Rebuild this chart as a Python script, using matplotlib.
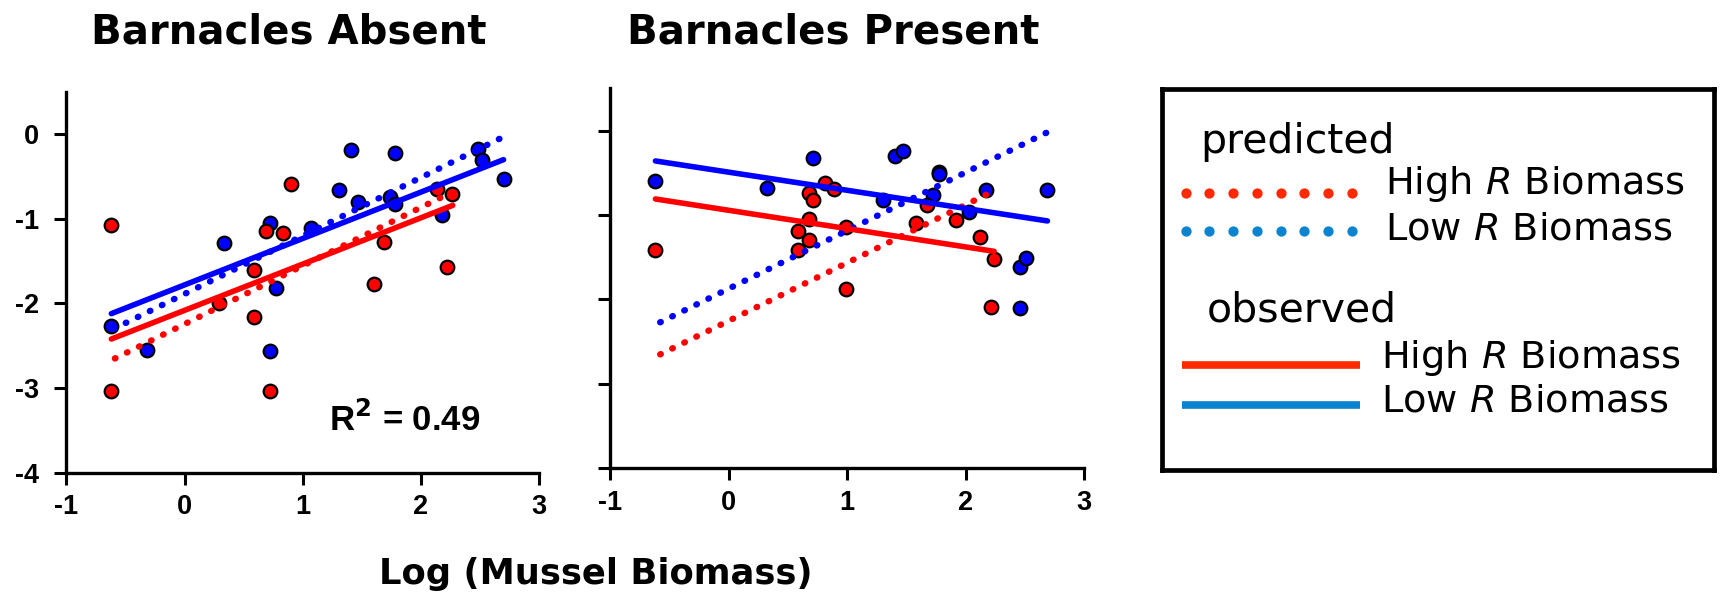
import numpy as np
import matplotlib
matplotlib.use("Agg")
import matplotlib.pyplot as plt

plt.rcParams['mathtext.fontset'] = 'dejavusans'
plt.rcParams['axes.unicode_minus'] = False

# ---- Barnacles absent ----
absent_high_x = [-0.62, -0.62, 0.29, 0.59, 0.59, 0.69, 0.83, 0.72, 0.90, 1.69, 1.60, 2.14, 2.26, 2.22]
absent_high_y = [-1.07, -3.03, -2.00, -1.61, -2.16, -1.14, -1.17, -3.03, -0.59, -1.27, -1.77, -0.65, -0.71, -1.57]
absent_low_x = [-0.62, -0.32, 0.33, 0.72, 0.77, 0.72, 1.07, 1.31, 1.41, 1.47, 1.74, 1.78, 1.78, 2.18, 2.48, 2.52, 2.70]
absent_low_y = [-2.27, -2.55, -1.28, -1.05, -1.82, -2.56, -1.11, -0.66, -0.18, -0.80, -0.74, -0.82, -0.22, -0.95, -0.17, -0.30, -0.53]

# fitted (observed) and model (predicted) lines, as end points
absent_obs_high = ([-0.62, 2.27], [-2.42, -0.84])
absent_obs_low = ([-0.62, 2.70], [-2.12, -0.30])
absent_pred_high = ([-0.59, 2.21], [-2.65, -0.72])
absent_pred_low = ([-0.60, 2.70], [-2.30, -0.03])
absent_r2 = 0.49

# ---- Barnacles present ----
present_high_x = [-0.62, 0.81, 0.89, 0.68, 0.71, 0.68, 0.58, 0.68, 0.58, 0.99, 0.99, 1.67, 1.58, 1.92, 2.12, 2.24, 2.21]
present_high_y = [-1.41, -0.62, -0.69, -0.74, -0.82, -1.05, -1.19, -1.30, -1.42, -1.14, -1.88, -0.88, -1.09, -1.06, -1.26, -1.52, -2.09]
present_low_x = [-0.62, 0.32, 0.71, 1.40, 1.47, 1.30, 1.77, 1.77, 1.72, 2.03, 2.17, 2.46, 2.51, 2.46, 2.69]
present_low_y = [-0.60, -0.68, -0.33, -0.30, -0.24, -0.82, -0.49, -0.52, -0.76, -0.97, -0.70, -1.61, -1.51, -2.10, -0.70]

present_obs_high = ([-0.62, 2.24], [-0.81, -1.43])
present_obs_low = ([-0.62, 2.69], [-0.36, -1.07])
present_pred_high = ([-0.58, 2.23], [-2.65, -0.72])
present_pred_low = ([-0.58, 2.69], [-2.27, -0.02])

xticks = [-1, 0, 1, 2, 3]
yticks = [0, -1, -2, -3, -4]

RED = '#ff0000'
BLUE = '#0000ff'
LEG_RED = '#ff2a00'
LEG_BLUE = '#0a84cf'

fig = plt.figure(figsize=(17.22, 6), dpi=100)
ax1 = fig.add_axes([0.0386, 0.2122, 0.2744, 0.6345])
ax2 = fig.add_axes([0.3545, 0.2193, 0.2751, 0.6335])

dotted = (0, (0.1, 2.0))


def draw_panel(ax, hx, hy, lx, ly, obs_h, obs_l, pred_h, pred_l, ylabels):
    ax.plot(lx, ly, 'o', ms=9.8, mfc=BLUE, mec='black', mew=1.6, zorder=2)
    ax.plot(hx, hy, 'o', ms=9.8, mfc=RED, mec='black', mew=1.6, zorder=2)
    ax.plot(*pred_h, color=RED, lw=4.6, ls=dotted, dash_capstyle='round', zorder=3)
    ax.plot(*pred_l, color=BLUE, lw=4.6, ls=dotted, dash_capstyle='round', zorder=3)
    ax.plot(*obs_h, color=RED, lw=4.0, solid_capstyle='round', zorder=3)
    ax.plot(*obs_l, color=BLUE, lw=4.0, solid_capstyle='round', zorder=3)

    ax.set_xlim(-1, 3)
    ax.set_ylim(-4, 0.5)
    for s in ['top', 'right']:
        ax.spines[s].set_visible(False)
    for s in ['left', 'bottom']:
        ax.spines[s].set_linewidth(2.4)
    ax.set_xticks(xticks)
    ax.set_yticks(yticks)
    ax.tick_params(direction='out', length=8.6, width=2.2, labelsize=19.5)
    ax.tick_params(axis='x', pad=7)
    ax.tick_params(axis='y', pad=11)
    if not ylabels:
        ax.set_yticklabels([])
    for lab in ax.get_xticklabels() + ax.get_yticklabels():
        lab.set_fontfamily('Liberation Sans')
        lab.set_fontweight('bold')
        lab.set_fontsize(19.5)


draw_panel(ax1, absent_high_x, absent_high_y, absent_low_x, absent_low_y,
           absent_obs_high, absent_obs_low, absent_pred_high, absent_pred_low, True)
draw_panel(ax2, present_high_x, present_high_y, present_low_x, present_low_y,
           present_obs_high, present_obs_low, present_pred_high, present_pred_low, False)

ax1.text(1.22, -3.38, 'R$^{\\mathbf{2}}$ = %.2f' % absent_r2, fontfamily='Liberation Sans',
         fontweight='bold', fontsize=25, va='center', ha='left')

title_font = dict(family='DejaVu Sans', weight='bold', size=29)
fig.text(289 / 1722, 1 - 33 / 600, 'Barnacles Absent', ha='center', va='center', **title_font)
fig.text(833 / 1722, 1 - 33 / 600, 'Barnacles Present', ha='center', va='center', **title_font)
fig.text(596 / 1722, 1 - 574 / 600, 'Log (Mussel Biomass)', ha='center', va='center',
         family='DejaVu Sans', weight='bold', size=25.5)

# legend panel, laid out in pixel units
lg = fig.add_axes([1162 / 1722, 1 - 470 / 600, 552 / 1722, 381 / 600])
lg.set_xlim(0, 552)
lg.set_ylim(381, 0)
lg.set_xticks([])
lg.set_yticks([])
for s in lg.spines.values():
    s.set_linewidth(3.4)

head_font = dict(family='DejaVu Sans', size=29.5)
item_font = dict(family='DejaVu Sans', size=27.5)
lg.text(38, 64, 'predicted', va='baseline', ha='left', **head_font)
lg.plot(np.linspace(23.7, 189.7, 8), [104] * 8, 'o', ms=7.4, color=LEG_RED, mew=0)
lg.plot(np.linspace(23.7, 189.7, 8), [142] * 8, 'o', ms=7.4, color=LEG_BLUE, mew=0)
lg.text(223, 95, 'High $\\mathit{R}$ Biomass', va='center', ha='left', **item_font)
lg.text(223, 141, 'Low $\\mathit{R}$ Biomass', va='center', ha='left', **item_font)

lg.text(45, 233, 'observed', va='baseline', ha='left', **head_font)
lg.plot([20, 198], [276, 276], color=LEG_RED, lw=5.5, solid_capstyle='butt')
lg.plot([20, 198], [316, 316], color=LEG_BLUE, lw=5.5, solid_capstyle='butt')
lg.text(219, 269, 'High $\\mathit{R}$ Biomass', va='center', ha='left', **item_font)
lg.text(219, 313, 'Low $\\mathit{R}$ Biomass', va='center', ha='left', **item_font)

fig.savefig('out.png', dpi=100)
